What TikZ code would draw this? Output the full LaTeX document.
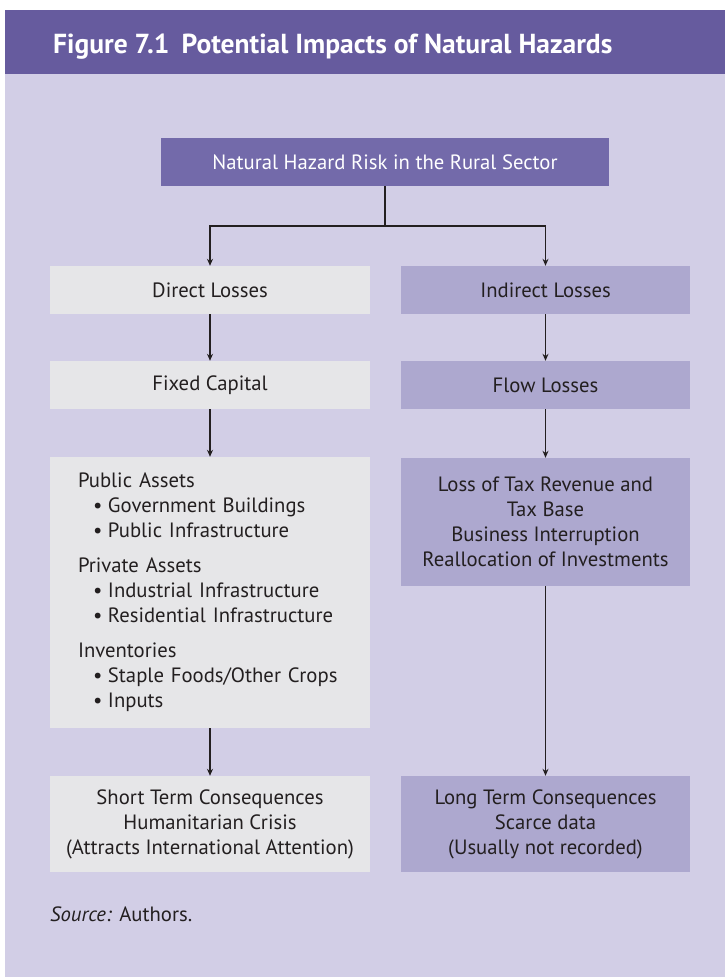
\documentclass[tikz,border=0pt]{standalone}
\usepackage{fontspec}
\setmainfont{PT Sans}
\usetikzlibrary{arrows.meta,positioning}
\definecolor{band}{HTML}{665B9E}
\definecolor{panel}{HTML}{D2CEE6}
\definecolor{riskfill}{HTML}{736AAA}
\definecolor{directfill}{HTML}{E6E6E8}
\definecolor{indirectfill}{HTML}{ADA8CF}
\definecolor{ink}{HTML}{231F20}
\newcommand{\bul}[1]{\hspace*{15pt}\makebox[15pt][l]{\textbullet}#1}

\begin{document}
\begin{tikzpicture}[x=1pt,y=-1pt,
    box/.style={inner sep=0pt,align=center,text=ink,font=\fontsize{20.7}{25}\selectfont},
    leftbox/.style={box,fill=directfill,minimum width=320pt},
    rightbox/.style={box,fill=indirectfill,minimum width=289pt},
    arr/.style={ink,line width=1.1pt,-{Stealth[length=7pt,width=6pt]}}]

  \useasboundingbox (0,0) rectangle (725,977);
  \fill[white] (0,0) rectangle (725,977);
  \fill[panel] (5,74) rectangle (725,977);
  \fill[band] (5,10) rectangle (725,74);

  \path
  (53,53) node[anchor=base west,inner sep=0pt,text=white,font=\bfseries\fontsize{27.5}{27.5}\selectfont] (title) {Figure 7.1\hspace{0.45em}Potential Impacts of Natural Hazards}
  (385,162) node[box,fill=riskfill,text=white,minimum width=448pt,minimum height=48pt] (risk) {Natural Hazard Risk in the Rural Sector}
  (210,290) node[leftbox,minimum height=48pt] (direct) {Direct Losses}
  (545.5,290) node[rightbox,minimum height=48pt] (indirect) {Indirect Losses}
  (210,385) node[leftbox,minimum height=48pt] (fixed) {Fixed Capital}
  (545.5,385) node[rightbox,minimum height=48pt] (flow) {Flow Losses}
  (210,592.5) node[leftbox,minimum height=271pt,text width=264pt,align=left] (assets)
    {Public Assets\\
     \bul{Government Buildings}\\
     \bul{Public Infrastructure}\\[10pt]
     Private Assets\\
     \bul{Industrial Infrastructure}\\
     \bul{Residential Infrastructure}\\[10pt]
     Inventories\\
     \bul{Staple Foods/Other Crops}\\
     \bul{Inputs}}
  (545.5,522) node[rightbox,minimum height=128pt] (tax)
    {Loss of Tax Revenue and\\Tax Base\\Business Interruption\\Reallocation of Investments}
  (210,824) node[leftbox,minimum height=96pt] (short)
    {Short Term Consequences\\Humanitarian Crisis\\(Attracts International Attention)}
  (545.5,824) node[rightbox,minimum height=96pt] (long)
    {Long Term Consequences\\Scarce data\\(Usually not recorded)}
  (50,921) node[anchor=base west,inner sep=0pt,text=ink,font=\fontsize{20.7}{25}\selectfont] (source) {\textit{Source:} Authors.}
  ;

  \coordinate (split) at (385,226);
  \draw[ink,line width=1.1pt] (risk) -- (split);
  \draw[arr] (split) -| (direct);
  \draw[arr] (split) -| (indirect);
  \draw[arr] (direct) -- (fixed);
  \draw[arr] (indirect) -- (flow);
  \draw[arr] (fixed) -- (assets);
  \draw[arr] (flow) -- (tax);
  \draw[arr] (assets) -- (short);
  \draw[arr] (tax) -- (long);
\end{tikzpicture}
\end{document}
